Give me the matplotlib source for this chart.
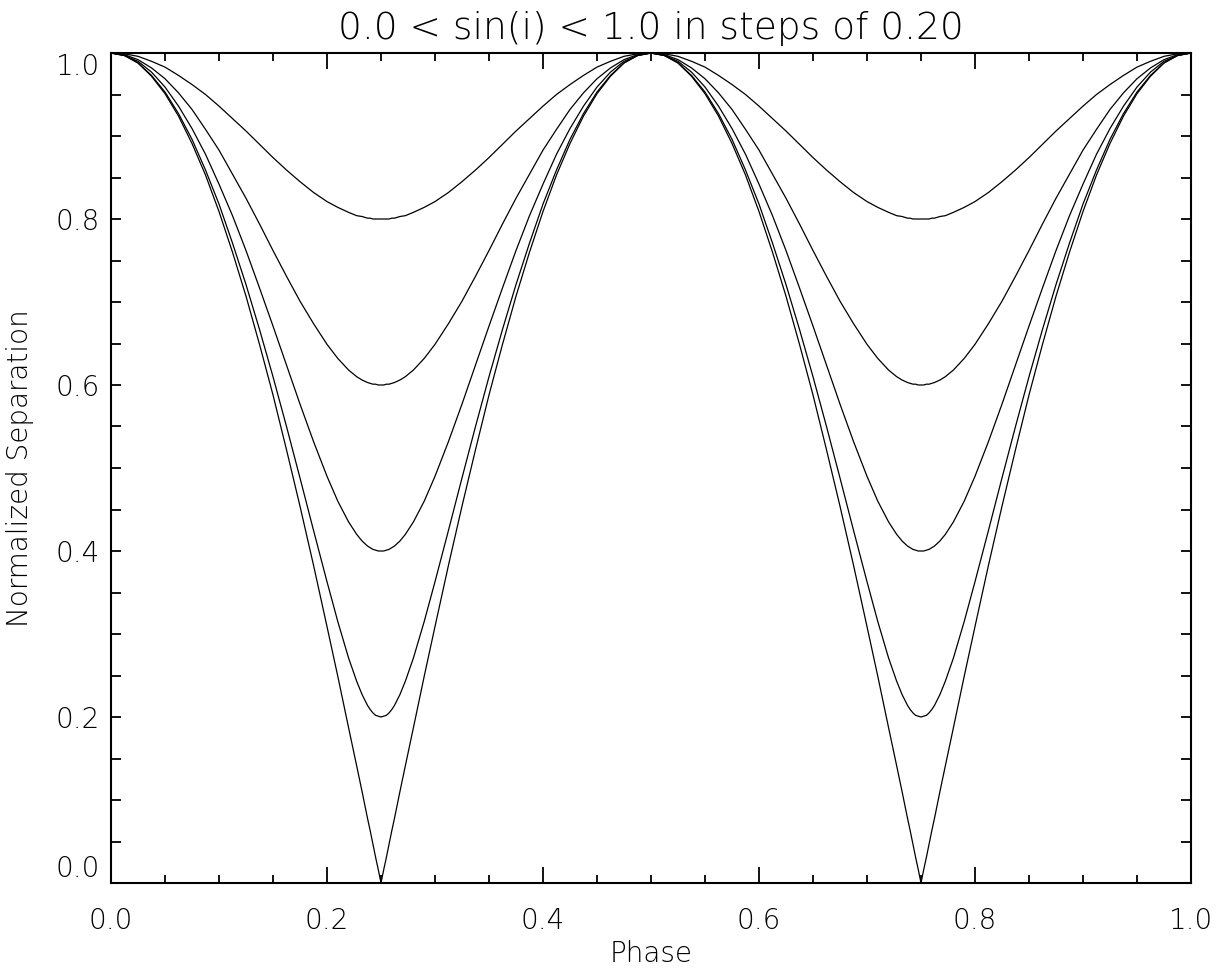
import matplotlib
matplotlib.use("Agg")
import matplotlib.pyplot as plt
from matplotlib.ticker import MultipleLocator, FormatStrFormatter

# orbital phase (denser sampling close to the minima)
phase = [0.0, 0.0125, 0.025, 0.0375, 0.05, 0.0625, 0.075, 0.0875, 0.1, 0.1125, 0.125, 0.1375, 0.15,
         0.1625, 0.175, 0.1875, 0.2, 0.21, 0.22, 0.2275, 0.2325, 0.2375, 0.24, 0.2425, 0.245, 0.2475, 0.25,
         0.2525, 0.255, 0.2575, 0.26, 0.2625, 0.2675, 0.2725, 0.28, 0.29, 0.3, 0.3125, 0.325, 0.3375,
         0.35, 0.3625, 0.375, 0.3875, 0.4, 0.4125, 0.425, 0.4375, 0.45, 0.4625, 0.475, 0.4875, 0.5,
         0.5125, 0.525, 0.5375, 0.55, 0.5625, 0.575, 0.5875, 0.6, 0.6125, 0.625, 0.6375, 0.65, 0.6625,
         0.675, 0.6875, 0.7, 0.71, 0.72, 0.7275, 0.7325, 0.7375, 0.74, 0.7425, 0.745, 0.7475, 0.75,
         0.7525, 0.755, 0.7575, 0.76, 0.7625, 0.7675, 0.7725, 0.78, 0.79, 0.8, 0.8125, 0.825, 0.8375,
         0.85, 0.8625, 0.875, 0.8875, 0.9, 0.9125, 0.925, 0.9375, 0.95, 0.9625, 0.975, 0.9875, 1.0]

# normalized separation, one curve per inclination (minimum 0.8 ... 0.0)
sep_a = [1.000, 0.999, 0.996, 0.990, 0.983, 0.973, 0.962, 0.950, 0.936, 0.921, 0.906, 0.890, 0.874,
         0.859, 0.845, 0.832, 0.821, 0.814, 0.808, 0.804, 0.803, 0.801, 0.801, 0.800, 0.800, 0.800, 0.800,
         0.800, 0.800, 0.800, 0.801, 0.801, 0.803, 0.804, 0.808, 0.814, 0.821, 0.832, 0.845, 0.859,
         0.874, 0.890, 0.906, 0.921, 0.936, 0.950, 0.962, 0.973, 0.983, 0.990, 0.996, 0.999, 1.000,
         0.999, 0.996, 0.990, 0.983, 0.973, 0.962, 0.950, 0.936, 0.921, 0.906, 0.890, 0.874, 0.859,
         0.845, 0.832, 0.821, 0.814, 0.808, 0.804, 0.803, 0.801, 0.801, 0.800, 0.800, 0.800, 0.800,
         0.800, 0.800, 0.800, 0.801, 0.801, 0.803, 0.804, 0.808, 0.814, 0.821, 0.832, 0.845, 0.859,
         0.874, 0.890, 0.906, 0.921, 0.936, 0.950, 0.962, 0.973, 0.983, 0.990, 0.996, 0.999, 1.000]
sep_b = [1.000, 0.998, 0.992, 0.982, 0.969, 0.952, 0.932, 0.908, 0.883, 0.854, 0.825, 0.794, 0.762,
         0.731, 0.701, 0.674, 0.649, 0.632, 0.618, 0.610, 0.606, 0.603, 0.602, 0.601, 0.601, 0.600, 0.600,
         0.600, 0.601, 0.601, 0.602, 0.603, 0.606, 0.610, 0.618, 0.632, 0.649, 0.674, 0.701, 0.731,
         0.762, 0.794, 0.825, 0.854, 0.883, 0.908, 0.932, 0.952, 0.969, 0.982, 0.992, 0.998, 1.000,
         0.998, 0.992, 0.982, 0.969, 0.952, 0.932, 0.908, 0.883, 0.854, 0.825, 0.794, 0.762, 0.731,
         0.701, 0.674, 0.649, 0.632, 0.618, 0.610, 0.606, 0.603, 0.602, 0.601, 0.601, 0.600, 0.600,
         0.600, 0.601, 0.601, 0.602, 0.603, 0.606, 0.610, 0.618, 0.632, 0.649, 0.674, 0.701, 0.731,
         0.762, 0.794, 0.825, 0.854, 0.883, 0.908, 0.932, 0.952, 0.969, 0.982, 0.992, 0.998, 1.000]
sep_c = [1.000, 0.997, 0.990, 0.977, 0.959, 0.936, 0.909, 0.878, 0.842, 0.804, 0.762, 0.717, 0.671,
         0.624, 0.577, 0.532, 0.490, 0.460, 0.435, 0.420, 0.412, 0.406, 0.404, 0.402, 0.401, 0.400, 0.400,
         0.400, 0.401, 0.402, 0.404, 0.406, 0.412, 0.420, 0.435, 0.460, 0.490, 0.532, 0.577, 0.624,
         0.671, 0.717, 0.762, 0.804, 0.842, 0.878, 0.909, 0.936, 0.959, 0.977, 0.990, 0.997, 1.000,
         0.997, 0.990, 0.977, 0.959, 0.936, 0.909, 0.878, 0.842, 0.804, 0.762, 0.717, 0.671, 0.624,
         0.577, 0.532, 0.490, 0.460, 0.435, 0.420, 0.412, 0.406, 0.404, 0.402, 0.401, 0.400, 0.400,
         0.400, 0.401, 0.402, 0.404, 0.406, 0.412, 0.420, 0.435, 0.460, 0.490, 0.532, 0.577, 0.624,
         0.671, 0.717, 0.762, 0.804, 0.842, 0.878, 0.909, 0.936, 0.959, 0.977, 0.990, 0.997, 1.000]
sep_d = [1.000, 0.997, 0.988, 0.973, 0.953, 0.927, 0.896, 0.859, 0.818, 0.771, 0.721, 0.667, 0.610,
         0.550, 0.488, 0.425, 0.363, 0.315, 0.271, 0.243, 0.227, 0.214, 0.209, 0.205, 0.202, 0.201, 0.200,
         0.201, 0.202, 0.205, 0.209, 0.214, 0.227, 0.243, 0.271, 0.315, 0.363, 0.425, 0.488, 0.550,
         0.610, 0.667, 0.721, 0.771, 0.818, 0.859, 0.896, 0.927, 0.953, 0.973, 0.988, 0.997, 1.000,
         0.997, 0.988, 0.973, 0.953, 0.927, 0.896, 0.859, 0.818, 0.771, 0.721, 0.667, 0.610, 0.550,
         0.488, 0.425, 0.363, 0.315, 0.271, 0.243, 0.227, 0.214, 0.209, 0.205, 0.202, 0.201, 0.200,
         0.201, 0.202, 0.205, 0.209, 0.214, 0.227, 0.243, 0.271, 0.315, 0.363, 0.425, 0.488, 0.550,
         0.610, 0.667, 0.721, 0.771, 0.818, 0.859, 0.896, 0.927, 0.953, 0.973, 0.988, 0.997, 1.000]
sep_e = [1.000, 0.997, 0.988, 0.972, 0.951, 0.924, 0.891, 0.853, 0.809, 0.760, 0.707, 0.649, 0.588,
         0.522, 0.454, 0.383, 0.309, 0.249, 0.187, 0.141, 0.110, 0.078, 0.063, 0.047, 0.031, 0.016, 0.000,
         0.016, 0.031, 0.047, 0.063, 0.078, 0.110, 0.141, 0.187, 0.249, 0.309, 0.383, 0.454, 0.522,
         0.588, 0.649, 0.707, 0.760, 0.809, 0.853, 0.891, 0.924, 0.951, 0.972, 0.988, 0.997, 1.000,
         0.997, 0.988, 0.972, 0.951, 0.924, 0.891, 0.853, 0.809, 0.760, 0.707, 0.649, 0.588, 0.522,
         0.454, 0.383, 0.309, 0.249, 0.187, 0.141, 0.110, 0.078, 0.063, 0.047, 0.031, 0.016, 0.000,
         0.016, 0.031, 0.047, 0.063, 0.078, 0.110, 0.141, 0.187, 0.249, 0.309, 0.383, 0.454, 0.522,
         0.588, 0.649, 0.707, 0.760, 0.809, 0.853, 0.891, 0.924, 0.951, 0.972, 0.988, 0.997, 1.000]

xticks = [0.0, 0.2, 0.4, 0.6, 0.8, 1.0]
yticks = [0.0, 0.2, 0.4, 0.6, 0.8, 1.0]

plt.rcParams['font.family'] = ['DejaVu Sans']
plt.rcParams['font.weight'] = 'light'

fig = plt.figure(figsize=(12.31, 9.69), dpi=100)
ax = fig.add_axes([111/1231, 1 - 883/969, 1080/1231, 830/969])

for s in [sep_a, sep_b, sep_c, sep_d, sep_e]:
    ax.plot(phase, s, color='black', lw=0.9)

ax.set_xlim(0, 1)
ax.set_ylim(0, 1)
ax.set_xticks(xticks)
ax.set_yticks(yticks)
ax.xaxis.set_minor_locator(MultipleLocator(0.05))
ax.yaxis.set_minor_locator(MultipleLocator(0.05))
ax.xaxis.set_major_formatter(FormatStrFormatter('%.1f'))
ax.yaxis.set_major_formatter(FormatStrFormatter('%.1f'))

ax.tick_params(axis='both', which='both', direction='in', top=True, right=True,
               width=1.3, labelsize=20, colors='black')
ax.tick_params(axis='x', which='major', length=11.5, pad=17)
ax.tick_params(axis='x', which='minor', length=6)
ax.tick_params(axis='y', which='both', length=7, pad=8)
for sp in ax.spines.values():
    sp.set_linewidth(1.5)

# IDL keeps the end labels inside the axis range
yt = ax.yaxis.get_major_ticks()
yt[0].label1.set_verticalalignment('bottom')
yt[-1].label1.set_verticalalignment('top')

ax.set_title('0.0 < sin(i) < 1.0 in steps of 0.20', fontsize=27, pad=10, fontweight='light')
ax.set_xlabel('Phase', fontsize=20, labelpad=4, fontweight='light')
ax.set_ylabel('Normalized Separation', fontsize=20, fontweight='light')
ax.yaxis.set_label_coords(-0.071, 0.5)

fig.savefig('out.png', dpi=100)
